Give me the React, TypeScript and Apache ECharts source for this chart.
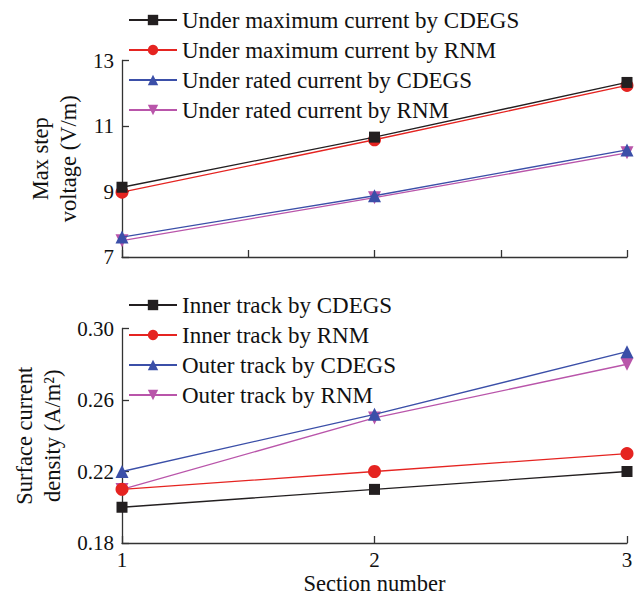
import React, { useEffect, useRef } from "react";
import * as echarts from "echarts";

const sections = [1, 2, 3];

const topNames = [
  "Under maximum current by CDEGS",
  "Under maximum current by RNM",
  "Under rated current by CDEGS",
  "Under rated current by RNM",
];
const maxCdegs = [9.13, 10.66, 12.33];
const maxRnm = [8.98, 10.58, 12.24];
const ratedCdegs = [7.61, 8.87, 10.27];
const ratedRnm = [7.5, 8.81, 10.18];

const bottomNames = [
  "Inner track by CDEGS",
  "Inner track by RNM",
  "Outer track by CDEGS",
  "Outer track by RNM",
];
const innerCdegs = [0.2, 0.21, 0.22];
const innerRnm = [0.21, 0.22, 0.23];
const outerCdegs = [0.22, 0.252, 0.287];
const outerRnm = [0.21, 0.25, 0.28];

const topTicks = [7, 9, 11, 13];
const bottomTicks = [0.18, 0.22, 0.26, 0.3];

const colors = ["#231f20", "#e52421", "#3b4fa8", "#b955aa"];
const symbols = ["rect", "circle", "triangle", "triangle"];
const rotates = [0, 0, 0, 180];
const sizes = [11, 13, 13, 13];

const FONT = "Liberation Serif";

export default function App() {
  const ref = useRef<HTMLDivElement>(null);
  useEffect(() => {
    document.body.style.margin = "0";
    const chart = echarts.init(ref.current!, null, { renderer: "svg" });
    const axisLine = { show: true, lineStyle: { color: "#333", width: 1.3 } };
    const tick = { show: true, inside: true, length: 7, lineStyle: { color: "#333", width: 1.3 } };
    const label = { color: "#111", fontFamily: FONT, fontSize: 21 };
    const mk = (name: string, data: number[], i: number, axis: number) => ({
      name,
      type: "line",
      xAxisIndex: axis,
      yAxisIndex: axis,
      data: sections.map((s, k) => [s, data[k]]),
      symbol: symbols[i],
      symbolSize: sizes[i],
      symbolRotate: rotates[i],
      color: colors[i],
      lineStyle: { width: 1.3, color: colors[i] },
      itemStyle: { color: colors[i] },
      z: 10 - i,
    });
    const legendCommon = {
      orient: "vertical",
      left: 123,
      itemWidth: 48,
      itemHeight: 13,
      itemGap: 7,
      textStyle: { fontFamily: FONT, fontSize: 23, color: "#111", lineHeight: 23 },
    };
    chart.setOption({
      animation: false,
      backgroundColor: "#fff",
      textStyle: { fontFamily: FONT },
      legend: [
        { ...legendCommon, top: 3.5, data: topNames },
        { ...legendCommon, top: 288.5, data: bottomNames },
      ],
      grid: [
        { left: 122, right: 13, top: 60.5, height: 196.5 },
        { left: 122, right: 13, top: 328.5, height: 214.5 },
      ],
      xAxis: [
        {
          type: "value",
          gridIndex: 0,
          min: 1,
          max: 3,
          interval: 0.5,
          axisLine,
          axisTick: tick,
          axisLabel: { show: false },
          splitLine: { show: false },
        },
        {
          type: "value",
          gridIndex: 1,
          min: 1,
          max: 3,
          interval: 1,
          axisLine,
          axisTick: tick,
          axisLabel: { ...label, margin: 6 },
          splitLine: { show: false },
          name: "Section number",
          nameLocation: "middle",
          nameGap: 29,
          nameTextStyle: { fontFamily: FONT, fontSize: 22.5, color: "#111" },
        },
      ],
      yAxis: [
        {
          type: "value",
          gridIndex: 0,
          min: 7,
          max: 13,
          axisLine,
          axisTick: { ...tick, customValues: topTicks },
          axisLabel: { ...label, margin: 8, customValues: topTicks },
          splitLine: { show: false },
          name: "Max step\nvoltage (V/m)",
          nameLocation: "middle",
          nameGap: 38,
          nameTextStyle: { fontFamily: FONT, fontSize: 22.5, color: "#111", lineHeight: 28 },
        },
        {
          type: "value",
          gridIndex: 1,
          min: 0.18,
          max: 0.3,
          axisLine,
          axisTick: { ...tick, customValues: bottomTicks },
          axisLabel: {
            ...label,
            margin: 8,
            customValues: bottomTicks,
            formatter: (v: number) => v.toFixed(2),
          },
          splitLine: { show: false },
          name: "Surface current\ndensity (A/m²)",
          nameLocation: "middle",
          nameGap: 38,
          nameTextStyle: { fontFamily: FONT, fontSize: 22.5, color: "#111", lineHeight: 28 },
        },
      ],
      series: [
        mk(topNames[0], maxCdegs, 0, 0),
        mk(topNames[1], maxRnm, 1, 0),
        mk(topNames[2], ratedCdegs, 2, 0),
        mk(topNames[3], ratedRnm, 3, 0),
        mk(bottomNames[0], innerCdegs, 0, 1),
        mk(bottomNames[1], innerRnm, 1, 1),
        mk(bottomNames[2], outerCdegs, 2, 1),
        mk(bottomNames[3], outerRnm, 3, 1),
      ],
    });
    return () => chart.dispose();
  }, []);
  return <div ref={ref} style={{ width: 640, height: 596 }} />;
}
